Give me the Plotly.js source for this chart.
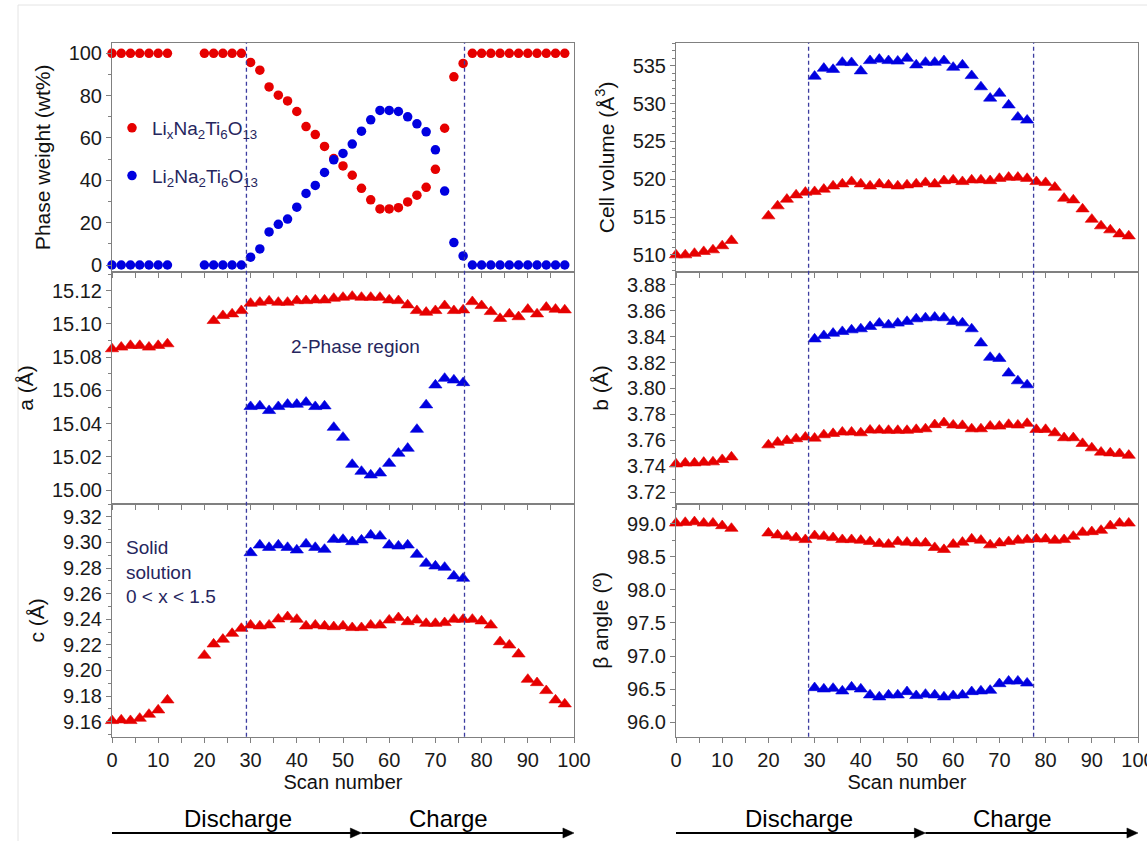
<!DOCTYPE html>
<html>
<head>
<meta charset="utf-8">
<script src="https://cdn.plot.ly/plotly-3.0.1.min.js"></script>
<style>html,body{margin:0;padding:0;background:#fff;}#chart{width:1147px;height:841px;}</style>
</head>
<body>
<div id="chart"></div>
<script>
// ---------------- DATA ----------------
const scanAll = [0,2,4,6,8,10,12,20,22,24,26,28,30,32,34,36,38,40,42,44,46,48,50,52,54,56,58,60,62,64,66,68,70,72,74,76,78,80,82,84,86,88,90,92,94,96,98];
const scanA   = [0,2,4,6,8,10,12,22,24,26,28,30,32,34,36,38,40,42,44,46,48,50,52,54,56,58,60,62,64,66,68,70,72,74,76,78,80,82,84,86,88,90,92,94,96,98];
const scanTwo = [30,32,34,36,38,40,42,44,46,48,50,52,54,56,58,60,62,64,66,68,70,72,74,76];

const phaseLix = [100,100,100,100,100,100,100,100,100,100,100,100,
  95.7,92.0,84.1,80.2,77.5,72.5,65.4,61.6,56.0,50.3,46.8,42.4,36.2,30.8,26.5,26.5,27.1,29.8,33.0,36.7,45.2,64.6,88.9,95.2,
  100,100,100,100,100,100,100,100,100,100,100];
const phaseLi2 = [0,0,0,0,0,0,0,0,0,0,0,0,
  3.7,7.6,15.6,19.2,21.7,27.3,33.8,37.6,43.7,49.7,52.7,57.1,63.2,68.6,73.0,73.0,72.5,70.0,66.7,62.9,54.4,34.9,10.6,4.3,
  0,0,0,0,0,0,0,0,0,0,0];

const aLix = [15.085,15.086,15.087,15.087,15.086,15.087,15.088,
  15.102,15.105,15.106,15.108,
  15.1124,15.113,15.1138,15.113,15.113,15.114,15.114,15.1144,15.1144,15.1154,15.116,15.1166,15.116,15.116,15.116,15.1144,15.114,15.1114,15.108,15.107,15.108,15.111,15.108,15.1084,
  15.1134,15.111,15.1074,15.1033,15.106,15.1043,15.1088,15.106,15.110,15.1088,15.1084];
const aLi2 = [15.0502,15.0506,15.0478,15.0502,15.0516,15.0516,15.0528,15.0502,15.0506,15.0377,15.0317,15.0154,15.0112,15.009,15.0102,15.016,15.0221,15.0251,15.0365,15.0512,15.0632,15.0672,15.0662,15.0646];

const cLix = [9.1608,9.1613,9.1608,9.1626,9.1657,9.1691,9.1769,
  9.2118,9.2206,9.2243,9.2289,9.2328,
  9.2354,9.2347,9.2354,9.2401,9.2419,9.2399,9.2347,9.2354,9.2347,9.2341,9.2347,9.2334,9.2334,9.2354,9.2354,9.2393,9.2412,9.238,9.2393,9.2367,9.2367,9.2373,9.2399,9.2399,
  9.2399,9.2386,9.2354,9.2224,9.2198,9.2128,9.193,9.1904,9.1842,9.1769,9.1738];
const cLi2 = [9.2919,9.2979,9.296,9.2979,9.296,9.294,9.2987,9.296,9.2945,9.3023,9.3023,9.3005,9.3018,9.3057,9.3049,9.2979,9.2971,9.2979,9.2906,9.2836,9.2815,9.2805,9.2737,9.2719];

const volLix = [510.0,510.0,510.2,510.44,510.66,511.2,511.9,
  515.15,516.47,517.35,517.92,518.27,
  518.36,518.67,519.1,519.37,519.68,519.37,519.1,519.37,519.24,519.1,519.24,519.37,519.55,519.37,519.8,519.9,519.68,519.9,519.9,519.8,520.1,520.25,520.25,520.1,
  519.68,519.55,518.93,517.48,517.26,516.07,514.7,513.83,513.3,512.77,512.5];
const volLi2 = [533.6,534.65,534.5,535.44,535.4,534.3,535.66,535.84,535.66,535.6,535.97,535.09,535.44,535.44,535.66,534.78,535.09,533.68,532.2,530.7,531.35,529.8,528.2,527.8];

const bLix = [3.7417,3.7425,3.7425,3.743,3.7433,3.7451,3.7471,
  3.7564,3.7585,3.7598,3.7611,3.7624,
  3.7616,3.7642,3.7652,3.7663,3.7663,3.7657,3.7678,3.7678,3.7676,3.7676,3.7676,3.7683,3.7688,3.772,3.7735,3.7717,3.7714,3.7688,3.7688,3.7709,3.7709,3.7722,3.7717,3.773,
  3.7683,3.7683,3.7657,3.7619,3.7619,3.7575,3.7541,3.7508,3.7502,3.7497,3.7484];
const bLi2 = [3.8381,3.8407,3.8425,3.8438,3.8451,3.8459,3.8477,3.8503,3.849,3.8503,3.8516,3.8536,3.8544,3.8549,3.8544,3.8516,3.8505,3.8459,3.835,3.8239,3.8231,3.8118,3.8058,3.8027];

const betaLix = [99.01,99.02,99.03,99.01,99.01,98.97,98.93,
  98.86,98.83,98.81,98.79,98.76,
  98.82,98.81,98.79,98.76,98.76,98.75,98.73,98.70,98.69,98.73,98.72,98.71,98.71,98.64,98.61,98.69,98.72,98.77,98.75,98.68,98.71,98.73,98.75,98.76,
  98.77,98.77,98.75,98.76,98.81,98.87,98.88,98.90,98.97,99.01,99.01];
const betaLi2 = [96.52,96.50,96.51,96.47,96.53,96.50,96.41,96.38,96.41,96.41,96.46,96.40,96.42,96.41,96.38,96.40,96.41,96.46,96.47,96.48,96.58,96.62,96.62,96.59];

const legendNames = ['Li<sub>x</sub>Na<sub>2</sub>Ti<sub>6</sub>O<sub>13</sub>', 'Li<sub>2</sub>Na<sub>2</sub>Ti<sub>6</sub>O<sub>13</sub>'];
const leftBoundaries = [29.1, 76.3];
const rightBoundaries = [28.7, 77.4];
const processSplit = 54;   // scan number where discharge turns to charge

// ---------------- STYLE ----------------
const RED = '#e60000', BLUE = '#0000e0', NAVY = '#26265e', FRAME = '#808080';
const triM = (c) => ({symbol:'triangle-up', size:11.5, color:c, line:{width:0.6, color:c}});
const cirM = (c) => ({symbol:'circle', size:9.5, color:c});

function tr(x, y, xa, ya, marker, extra) {
  return Object.assign({x:x, y:y, xaxis:xa, yaxis:ya, type:'scatter', mode:'markers',
    marker:marker, cliponaxis:false, showlegend:false, hoverinfo:'x+y'}, extra||{});
}

const data = [
  tr(scanAll, phaseLix, 'x', 'y', cirM(RED), {name:legendNames[0], showlegend:true, legendgroup:'g1'}),
  tr(scanAll, phaseLi2, 'x', 'y', cirM(BLUE), {name:legendNames[1], showlegend:true, legendgroup:'g2'}),
  tr(scanA, aLix, 'x2', 'y2', triM(RED)),
  tr(scanTwo, aLi2, 'x2', 'y2', triM(BLUE)),
  tr(scanAll, cLix, 'x3', 'y3', triM(RED)),
  tr(scanTwo, cLi2, 'x3', 'y3', triM(BLUE)),
  tr(scanAll, volLix, 'x4', 'y4', triM(RED)),
  tr(scanTwo, volLi2, 'x4', 'y4', triM(BLUE)),
  tr(scanAll, bLix, 'x5', 'y5', triM(RED)),
  tr(scanTwo, bLi2, 'x5', 'y5', triM(BLUE)),
  tr(scanAll, betaLix, 'x6', 'y6', triM(RED)),
  tr(scanTwo, betaLi2, 'x6', 'y6', triM(BLUE))
];

const W = 1147, H = 841;
const px = (p) => p / W;
const py = (p) => 1 - p / H;
const leftDom = [px(112), px(574)], rightDom = [px(676), px(1138)];
const topDom = [py(272), py(42.7)], midDom = [py(504), py(272)], botDom = [py(736.7), py(504)];

const FONT = 'Liberation Sans, Arial, sans-serif';

function xAxis(dom, anchor, labels) {
  const ax = {domain:dom, anchor:anchor, range:[0,100], tickmode:'linear', tick0:0, dtick:10,
    ticks:'outside', ticklen:5, tickwidth:1, tickcolor:FRAME,
    minor:{dtick:5, ticks:'outside', ticklen:5, tickwidth:1, tickcolor:FRAME},
    showline:true, linecolor:FRAME, linewidth:1, mirror:true, showgrid:false, zeroline:false,
    showticklabels:labels, ticklabeloverflow:'allow',
    tickfont:{family:FONT, size:20, color:'#1a1a1a'}};
  if (labels) ax.title = {text:'Scan number', font:{family:FONT, size:20, color:'#111'}, standoff:0};
  return ax;
}
function yAxis(dom, anchor, range, dtick, minor, fmt, title) {
  return {domain:dom, anchor:anchor, range:range, tickmode:'linear', tick0:0, dtick:dtick,
    tickformat:fmt, ticks:'outside', ticklen:5, tickwidth:1, tickcolor:FRAME,
    minor:{dtick:minor, ticks:'outside', ticklen:3, tickwidth:1, tickcolor:FRAME},
    showline:true, linecolor:FRAME, linewidth:1, mirror:true, showgrid:false, zeroline:false,
    tickfont:{family:FONT, size:20, color:'#1a1a1a'},
    title:{text:title, font:{family:FONT, size:21, color:'#111'}, standoff:12}};
}

const shapes = [];
const DASH = {color:'#3c3ca0', width:1.3, dash:'4px,3px'};
leftBoundaries.forEach(v => shapes.push({type:'line', xref:'x3', yref:'paper', x0:v, x1:v, y0:botDom[0], y1:topDom[1], line:DASH}));
rightBoundaries.forEach(v => shapes.push({type:'line', xref:'x6', yref:'paper', x0:v, x1:v, y0:botDom[0], y1:topDom[1], line:DASH}));
// faint outer frame of the original figure
shapes.push({type:'line', xref:'paper', yref:'paper', x0:px(18), x1:1, y0:py(5), y1:py(5), line:{color:'#e4e4e4', width:1}});
shapes.push({type:'line', xref:'paper', yref:'paper', x0:px(18), x1:px(18), y0:0, y1:py(5), line:{color:'#e4e4e4', width:1}});

// process arrows (Discharge -> Charge) under each column
const arrowY = py(833), labelY = py(818);
const headLen = 2.4, headHalf = 5 / H;
['x3', 'x6'].forEach(ax => {
  [[0, processSplit], [processSplit, 100]].forEach(([a, b]) => {
    shapes.push({type:'line', xref:ax, yref:'paper', x0:a, x1:b - headLen + 0.3, y0:arrowY, y1:arrowY,
      line:{color:'#000', width:2}});
    shapes.push({type:'path', xref:ax, yref:'paper',
      path:`M ${b - headLen},${arrowY + headHalf} L ${b},${arrowY} L ${b - headLen},${arrowY - headHalf} Z`,
      fillcolor:'#000', line:{color:'#000', width:0.5}});
  });
});

const annotations = [];
[['x3', 27.3], ['x6', 26.7]].forEach(([ax, dx]) => {
  annotations.push({xref:ax, yref:'paper', x:dx, y:labelY, text:'Discharge', showarrow:false,
    xanchor:'center', yanchor:'middle', font:{family:FONT, size:24, color:'#000'}});
  annotations.push({xref:ax, yref:'paper', x:72.9, y:labelY, text:'Charge', showarrow:false,
    xanchor:'center', yanchor:'middle', font:{family:FONT, size:24, color:'#000'}});
});
annotations.push({xref:'x2', yref:'y2', x:52.6, y:15.0865, text:'2-Phase region', showarrow:false,
  xanchor:'center', yanchor:'middle', font:{family:FONT, size:19, color:NAVY}});
annotations.push({xref:'x3', yref:'y3', x:2.7, y:9.2768, text:'Solid<br>solution<br>0 &lt; x &lt; 1.5', showarrow:false,
  xanchor:'left', yanchor:'middle', align:'left', font:{family:FONT, size:19, color:NAVY}});

const layout = {
  width:W, height:H, margin:{l:0, r:0, t:0, b:0}, paper_bgcolor:'#fff', plot_bgcolor:'#fff',
  font:{family:FONT},
  showlegend:true,
  legend:{x:px(112), y:py(109), xanchor:'left', yanchor:'top', bgcolor:'rgba(0,0,0,0)', borderwidth:0,
    traceorder:'grouped', tracegroupgap:20, font:{family:FONT, size:19, color:NAVY}},
  xaxis: xAxis(leftDom, 'y', false),
  xaxis2: xAxis(leftDom, 'y2', false),
  xaxis3: xAxis(leftDom, 'y3', true),
  xaxis4: xAxis(rightDom, 'y4', false),
  xaxis5: xAxis(rightDom, 'y5', false),
  xaxis6: xAxis(rightDom, 'y6', true),
  yaxis: yAxis(topDom, 'x', [-3.3, 105], 20, 10, 'd', 'Phase weight (wt%)'),
  yaxis2: yAxis(midDom, 'x2', [14.9916, 15.1313], 0.02, 0.01, '.2f', 'a (Å)'),
  yaxis3: yAxis(botDom, 'x3', [9.1483, 9.33], 0.02, 0.01, '.2f', 'c (Å)'),
  yaxis4: yAxis(topDom, 'x4', [507.75, 538.04], 5, 1, 'd', 'Cell volume (Å<sup>3</sup>)'),
  yaxis5: yAxis(midDom, 'x5', [3.7109, 3.8898], 0.02, 0.01, '.2f', 'b (Å)'),
  yaxis6: yAxis(botDom, 'x6', [95.78, 99.30], 0.5, 0.25, '.1f', 'β angle (º)'),
  shapes:shapes,
  annotations:annotations
};

Plotly.newPlot('chart', data, layout, {displayModeBar:false, staticPlot:true});
</script>
</body>
</html>
